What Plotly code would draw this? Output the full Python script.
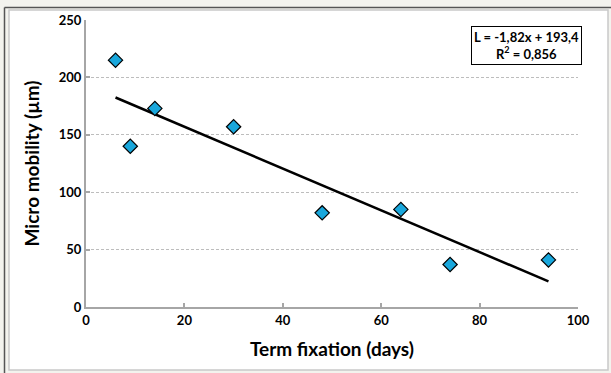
import numpy as np
import plotly.graph_objects as go

# Measurements
term_days = [6, 9, 14, 30, 48, 64, 74, 94]
micro_mobility = [215, 140, 173, 157, 82, 85, 37, 41]

# Linear fit reported on the chart
slope = -1.82
intercept = 193.4
r_squared = 0.856

x_ticks = [0, 20, 40, 60, 80, 100]
y_ticks = [0, 50, 100, 150, 200, 250]

W, H = 611, 373
L, R, T, B = 86, 33, 20, 66
pw, ph = W - L - R, H - T - B


def px_x(p):
    return (p - L) / pw


def px_y(p):
    return 1 - (p - T) / ph


fit_x = np.array([min(term_days), max(term_days)])
fit_y = slope * fit_x + intercept

fig = go.Figure()

fig.add_trace(go.Scatter(
    x=fit_x, y=fit_y, mode="lines",
    line=dict(color="black", width=2.5),
    hoverinfo="skip", showlegend=False,
))

fig.add_trace(go.Scatter(
    x=term_days, y=micro_mobility, mode="markers",
    marker=dict(symbol="diamond", size=11, color="#19a7dc",
                line=dict(color="black", width=1.2)),
    showlegend=False,
))

font_family = "Lato, 'Open Sans', Arial, sans-serif"

fig.update_xaxes(
    range=[0, 100], tickvals=x_ticks, ticks="inside", ticklen=4,
    tickcolor="#a6a6a6", tickwidth=2,
    showline=True, linecolor="#a6a6a6", linewidth=2,
    showgrid=False, zeroline=False,
    tickfont=dict(family=font_family, size=13, color="black", weight="bold"),
    title=dict(text="Term fixation (days)", standoff=16,
               font=dict(family=font_family, size=19, color="black", weight="bold")),
)
fig.update_yaxes(
    range=[0, 250], tickvals=y_ticks, ticks="inside", ticklen=4,
    tickcolor="#a6a6a6", tickwidth=2,
    showline=True, linecolor="#a6a6a6", linewidth=2,
    showgrid=True, gridcolor="#bdbdbd", griddash="3px,2px", gridwidth=1,
    zeroline=False,
    tickfont=dict(family=font_family, size=13, color="black", weight="bold"),
    title=dict(text="Micro mobility (µm)", standoff=14,
               font=dict(family=font_family, size=19, color="black", weight="bold")),
)

eq_text = (f"L = {slope:.2f}x + {intercept:.1f}".replace(".", ",")
           + "<br>R<sup>2</sup> = " + f"{r_squared:.3f}".replace(".", ","))

fig.add_annotation(
    xref="paper", yref="paper",
    x=px_x(526.5), y=px_y(45.5), xanchor="center", yanchor="middle",
    text=eq_text, showarrow=False, align="center",
    font=dict(family=font_family, size=13, color="black", weight="bold"),
    bgcolor="white", bordercolor="black", borderwidth=1, borderpad=2,
)

# Window-style frame around the chart
shapes = [
    dict(type="rect", xref="paper", yref="paper", layer="below",
         x0=px_x(9), x1=px_x(608), y0=px_y(370), y1=px_y(10),
         fillcolor="white", line=dict(color="#c9c9c9", width=1.5)),
    dict(type="line", xref="paper", yref="paper",
         x0=px_x(4.5), x1=px_x(4.5), y0=px_y(7.5), y1=px_y(373),
         line=dict(color="#555555", width=1.5)),
    dict(type="line", xref="paper", yref="paper",
         x0=px_x(4.5), x1=px_x(611), y0=px_y(7.5), y1=px_y(7.5),
         line=dict(color="#555555", width=1.5)),
]

fig.update_layout(
    width=W, height=H,
    margin=dict(l=L, r=R, t=T, b=B),
    paper_bgcolor="#f3f3ee", plot_bgcolor="white",
    shapes=shapes,
)

fig.write_html("out.html")
